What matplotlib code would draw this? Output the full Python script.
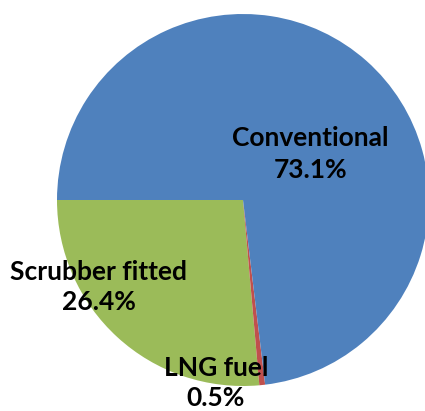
import matplotlib
matplotlib.use("Agg")
import matplotlib.pyplot as plt

categories = ["Scrubber fitted", "LNG fuel", "Conventional"]
shares = [26.4, 0.5, 73.1]
colors = ["#9BBB59", "#C0504D", "#4F81BD"]

W, H = 425, 411
fig = plt.figure(figsize=(W / 100, H / 100), dpi=100)
ax = fig.add_axes([0, 0, 1, 1])

cx, cy, r = 243, 211, 186
ax.pie(shares, colors=colors, startangle=180, counterclock=True,
       center=(cx, cy), radius=r, frame=True,
       wedgeprops=dict(linewidth=0))
ax.set_xlim(0, W)
ax.set_ylim(0, H)
ax.set_aspect("equal")
ax.axis("off")

label_pos = {
    "Conventional": (310.5, 257),
    "Scrubber fitted": (99, 124),
    "LNG fuel": (216, 28),
}
for name, val in zip(categories, shares):
    x, y = label_pos[name]
    ax.text(x, y, f"{name}\n{val:.1f}%", ha="center", va="center",
            fontsize=19, fontweight="bold", family="Lato",
            linespacing=1.35, color="black")

fig.savefig("out.png", dpi=100)
